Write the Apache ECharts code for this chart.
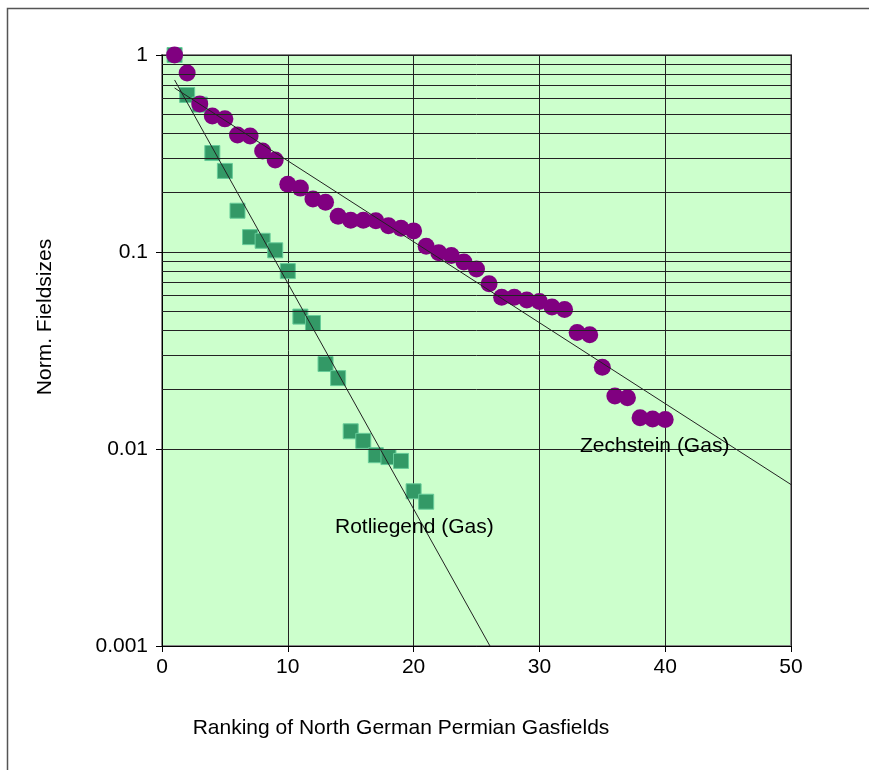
<!DOCTYPE html>
<html>
<head>
<meta charset="utf-8">
<script src="https://cdn.jsdelivr.net/npm/echarts@6/dist/echarts.min.js"></script>
<style>
  html, body { margin: 0; padding: 0; background: #fff; }
  #chart { width: 869px; height: 770px; }
</style>
</head>
<body>
<div id="chart"></div>
<script>
// ranks 1..n, normalised field sizes
const zechsteinSizes = [
  1, 0.81, 0.564, 0.49, 0.474, 0.393, 0.388, 0.326, 0.293, 0.221,
  0.211, 0.186, 0.179, 0.152, 0.145, 0.145, 0.144, 0.136, 0.132, 0.128,
  0.107, 0.099, 0.096, 0.089, 0.082, 0.069, 0.059, 0.059, 0.057, 0.056,
  0.0526, 0.051, 0.039, 0.038, 0.026, 0.0186, 0.0182, 0.0144, 0.0142, 0.0141
]
const rotliegendSizes = [
  1, 0.627, 0.56, 0.318, 0.258, 0.162, 0.119, 0.114, 0.102, 0.080,
  0.047, 0.0436, 0.027, 0.0229, 0.0123, 0.011, 0.0093, 0.0091, 0.0087, 0.0061,
  0.0054
]
// trend line end points [rank, size]
const zechsteinTrend = [[1, 0.68], [50, 0.0066]]
const rotliegendTrend = [[1, 0.747], [26.07, 0.001]]

const xTicks = [0, 10, 20, 30, 40, 50]
const yMajor = [0.001, 0.01, 0.1, 1]
const yMinor = [
  0.002, 0.003, 0.004, 0.005, 0.006, 0.007, 0.008, 0.009,
  0.02, 0.03, 0.04, 0.05, 0.06, 0.07, 0.08, 0.09,
  0.2, 0.3, 0.4, 0.5, 0.6, 0.7, 0.8, 0.9
]

const font = 'Liberation Sans, Arial, sans-serif'
const fs = 21
const toPoints = arr => arr.map((v, i) => [i + 1, v])

const chart = echarts.init(document.getElementById('chart'))

chart.setOption({
  animation: false,
  backgroundColor: '#fff',
  grid: { left: 162, right: 78, top: 55, bottom: 124, show: true, backgroundColor: '#ccffcc', borderColor: '#888', borderWidth: 2 },
  xAxis: {
    type: 'value',
    min: xTicks[0],
    max: xTicks[xTicks.length - 1],
    interval: 10,
    axisLine: { onZero: false, lineStyle: { color: '#000', width: 1 } },
    axisTick: { show: true, length: 6, lineStyle: { color: '#000' } },
    axisLabel: { color: '#000', fontSize: fs, fontFamily: font, margin: 11 },
    splitLine: { show: true, lineStyle: { color: '#222', width: 1 } }
  },
  yAxis: {
    type: 'log',
    logBase: 10,
    min: yMajor[0],
    max: yMajor[yMajor.length - 1],
    axisLine: { show: true, lineStyle: { color: '#000', width: 1 } },
    axisTick: { show: true, length: 6, lineStyle: { color: '#000' } },
    axisLabel: { color: '#000', fontSize: fs, fontFamily: font, margin: 14, formatter: v => String(+v.toPrecision(3)) },
    splitLine: { show: true, lineStyle: { color: '#222', width: 1 } }
  },
  graphic: [
    { type: 'rect', shape: { x: 7.5, y: 8.5, width: 900, height: 800 }, style: { fill: 'none', stroke: '#555', lineWidth: 1.5 }, silent: true },
    { type: 'text', x: 401, y: 728, style: { text: 'Ranking of North German Permian Gasfields', fontSize: fs, fontFamily: font, fill: '#000', align: 'center', verticalAlign: 'middle' } },
    { type: 'text', x: 45, y: 317, rotation: Math.PI / 2, style: { text: 'Norm. Fieldsizes', fontSize: fs, fontFamily: font, fill: '#000', align: 'center', verticalAlign: 'middle' } },
    { type: 'text', x: 580, y: 446, style: { text: 'Zechstein (Gas)', fontSize: fs, fontFamily: font, fill: '#000', verticalAlign: 'middle' }, z: 100 },
    { type: 'text', x: 335, y: 527, style: { text: 'Rotliegend (Gas)', fontSize: fs, fontFamily: font, fill: '#000', verticalAlign: 'middle' }, z: 100 }
  ],
  series: [
    {
      type: 'line',
      data: [],
      silent: true,
      markLine: {
        silent: true,
        symbol: 'none',
        label: { show: false },
        lineStyle: { color: '#222', width: 1, type: 'solid' },
        data: yMinor.map(v => ({ yAxis: v }))
      }
    },
    {
      name: 'Rotliegend (Gas)',
      type: 'scatter',
      symbol: 'rect',
      symbolSize: 15,
      itemStyle: { color: '#339966', borderColor: '#66cc99', borderWidth: 1, opacity: 1 },
      data: toPoints(rotliegendSizes),
      z: 3
    },
    {
      name: 'Zechstein (Gas)',
      type: 'scatter',
      symbol: 'circle',
      symbolSize: 17,
      itemStyle: { color: '#800080', opacity: 1 },
      data: toPoints(zechsteinSizes),
      z: 4
    },
    {
      type: 'line',
      data: rotliegendTrend,
      symbol: 'none',
      lineStyle: { color: '#222', width: 1 },
      z: 5
    },
    {
      type: 'line',
      data: zechsteinTrend,
      symbol: 'none',
      lineStyle: { color: '#222', width: 1 },
      z: 5
    }
  ]
})
</script>
</body>
</html>
